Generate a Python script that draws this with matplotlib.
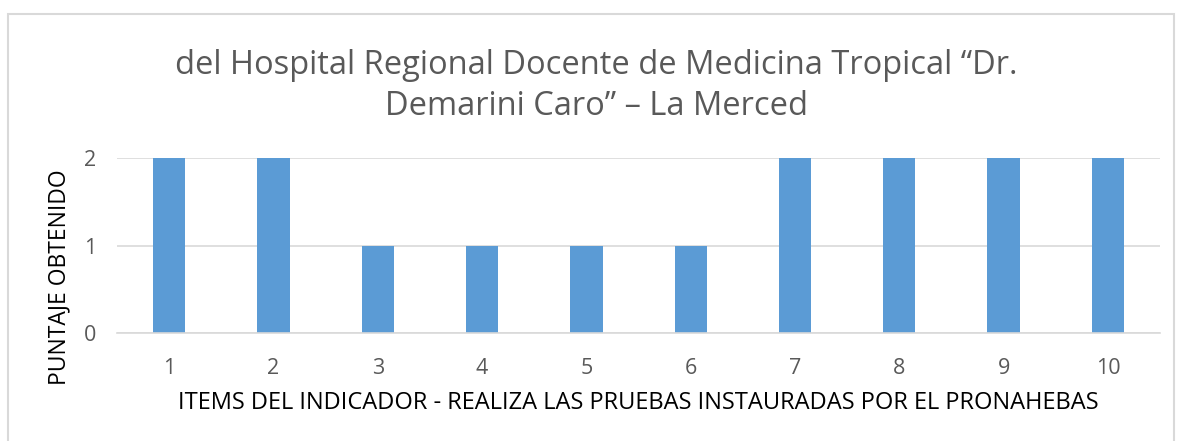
import matplotlib.pyplot as plt
from matplotlib.patches import Rectangle

items = ["1", "2", "3", "4", "5", "6", "7", "8", "9", "10"]
puntaje = [2, 2, 1, 1, 1, 1, 2, 2, 2, 2]

title = "del Hospital Regional Docente de Medicina Tropical “Dr.\nDemarini Caro” – La Merced"
xlabel = "ITEMS DEL INDICADOR - REALIZA LAS PRUEBAS INSTAURADAS POR EL PRONAHEBAS"
ylabel = "PUNTAJE OBTENIDO"

plt.rcParams['font.family'] = ['Open Sans', 'DejaVu Sans']

fig = plt.figure(figsize=(11.77, 4.41), dpi=100)
ax = fig.add_axes([0.0994, 0.2449, 0.8862, 0.3968])

x = range(len(items))
ax.bar(x, puntaje, width=0.31, color="#5b9bd5", zorder=3)
ax.set_xlim(-0.5, len(items) - 0.5)
ax.set_ylim(0, 2)
ax.set_yticks([0, 1, 2])
ax.set_xticks(list(x))
ax.set_xticklabels(items)
ax.yaxis.grid(color="#d9d9d9", linewidth=1.2, zorder=0)  # horizontal lines
for side in ["top", "right", "left"]:
    ax.spines[side].set_visible(False)
ax.spines["bottom"].set_color("#d9d9d9")
ax.spines["bottom"].set_linewidth(1.2)
ax.spines["bottom"].set_zorder(4)
ax.tick_params(length=0, labelsize=15.5, labelcolor="#595959")
ax.tick_params(axis="x", pad=18)
ax.tick_params(axis="y", pad=15)

ax.set_xlabel(xlabel, fontsize=17, color="black", labelpad=9)
# y label placed in figure coords, centred on its box
fig.text(0.0501, 0.372, ylabel, rotation=90, ha="center", va="center",
         fontsize=16.5, color="black")

fig.text(0.507, 0.805, title, ha="center", va="center", fontsize=23.5,
         color="#595959", linespacing=1.3)

fig.patches.append(Rectangle((0.0068, -0.05), 0.991, 1.018, transform=fig.transFigure,
                             fill=False, edgecolor="#d9d9d9", linewidth=1.5))

fig.savefig("out.png", dpi=100)
